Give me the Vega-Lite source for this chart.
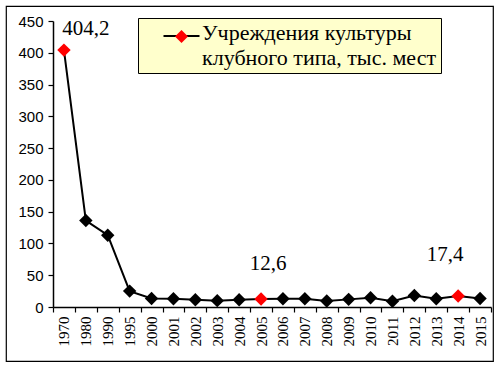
{
  "$schema": "https://vega.github.io/schema/vega-lite/v6.json",
  "width": 487,
  "height": 355,
  "autosize": "none",
  "padding": {"left": 6, "top": 6, "right": 7, "bottom": 8},
  "background": "white",
  "config": {
    "view": {"stroke": "black", "strokeWidth": 1.2},
    "locale": {"number": {"decimal": ",", "thousands": " ", "grouping": [3], "currency": ["", ""]}},
    "axis": {"grid": false, "domainColor": "black", "tickColor": "black", "labelColor": "black", "domainWidth": 1.5, "tickWidth": 1.2}
  },
  "data": {
    "values": [
      {"year": "1970", "value": 404.2},
      {"year": "1980", "value": 136},
      {"year": "1990", "value": 113},
      {"year": "1995", "value": 25},
      {"year": "2000", "value": 13.5},
      {"year": "2001", "value": 13},
      {"year": "2002", "value": 11.5},
      {"year": "2003", "value": 10},
      {"year": "2004", "value": 11.5},
      {"year": "2005", "value": 12.6},
      {"year": "2006", "value": 13},
      {"year": "2007", "value": 13},
      {"year": "2008", "value": 9.5},
      {"year": "2009", "value": 12},
      {"year": "2010", "value": 14.5},
      {"year": "2011", "value": 9},
      {"year": "2012", "value": 18},
      {"year": "2013", "value": 13},
      {"year": "2014", "value": 17.4},
      {"year": "2015", "value": 13.5}
    ]
  },
  "encoding": {
    "x": {
      "field": "year", "type": "ordinal", "sort": null,
      "scale": {"type": "band", "range": [47, 485], "paddingInner": 0, "paddingOuter": 0},
      "axis": {"offset": -54, "tickBand": "extent", "labelAngle": -90, "labelFont": "Liberation Serif", "labelFontSize": 15, "tickSize": 5, "labelPadding": 4, "title": null}
    },
    "y": {
      "field": "value", "type": "quantitative",
      "scale": {"domain": [0, 450], "range": [301, 15], "nice": false},
      "axis": {"offset": -47, "values": [0, 50, 100, 150, 200, 250, 300, 350, 400, 450], "labelFont": "Liberation Sans", "labelFontSize": 15, "tickSize": 5, "labelPadding": 5, "title": null}
    }
  },
  "layer": [
    {
      "mark": {"type": "line", "color": "black", "strokeWidth": 2},
      "encoding": {
        "stroke": {
          "datum": "Учреждения культуры клубного типа, тыс. мест",
          "scale": {"range": ["black"]},
          "legend": {
            "orient": "none", "legendX": 132, "legendY": 12, "title": null,
            "symbolType": "M-4,0L4,0", "symbolSize": 81, "symbolStrokeWidth": 2, "symbolStrokeColor": "black",
            "labelExpr": "['Учреждения культуры', 'клубного типа, тыс. мест']",
            "labelFont": "Liberation Serif", "labelFontSize": 22, "labelColor": "black", "labelLimit": 0,
            "labelBaseline": "alphabetic", "padding": 4,
            "fillColor": "#FFFFCC", "strokeColor": "black",
            "encode": {
              "symbols": {"update": {"x": {"value": 39.5}, "y": {"value": 14}}},
              "labels": {"update": {"x": {"value": 60}, "y": {"value": 14}, "lineHeight": {"value": 25}, "dy": {"value": 4}}}
            }
          }
        }
      }
    },
    {
      "transform": [{"filter": "datum.year != '1970' && datum.year != '2005' && datum.year != '2014'"}],
      "mark": {"type": "point", "filled": true, "size": 180, "opacity": 1, "shape": "diamond", "color": "black"}
    },
    {
      "transform": [{"filter": "datum.year == '1970' || datum.year == '2005' || datum.year == '2014'"}],
      "mark": {"type": "point", "filled": true, "size": 180, "opacity": 1, "color": "red"},
      "encoding": {
        "shape": {
          "datum": "B",
          "scale": {"range": ["diamond"]},
          "legend": {
            "orient": "none", "legendX": 132, "legendY": 19.5, "title": null,
            "symbolType": "diamond", "symbolSize": 170, "symbolFillColor": "red", "symbolStrokeWidth": 0,
            "symbolOffset": 32.5,
            "labelExpr": "''", "padding": 4
          }
        }
      }
    },
    {
      "transform": [{"filter": "datum.year == '1970'"}],
      "mark": {"type": "text", "font": "Liberation Serif", "fontSize": 21, "dx": 22, "dy": -15, "baseline": "alphabetic", "align": "center", "color": "black"},
      "encoding": {"text": {"field": "value", "type": "quantitative", "format": ".1f"}}
    },
    {
      "transform": [{"filter": "datum.year == '2005'"}],
      "mark": {"type": "text", "font": "Liberation Serif", "fontSize": 21, "dx": 7, "dy": -29, "baseline": "alphabetic", "align": "center", "color": "black"},
      "encoding": {"text": {"field": "value", "type": "quantitative", "format": ".1f"}}
    },
    {
      "transform": [{"filter": "datum.year == '2014'"}],
      "mark": {"type": "text", "font": "Liberation Serif", "fontSize": 21, "dx": -13, "dy": -35, "baseline": "alphabetic", "align": "center", "color": "black"},
      "encoding": {"text": {"field": "value", "type": "quantitative", "format": ".1f"}}
    }
  ]
}
